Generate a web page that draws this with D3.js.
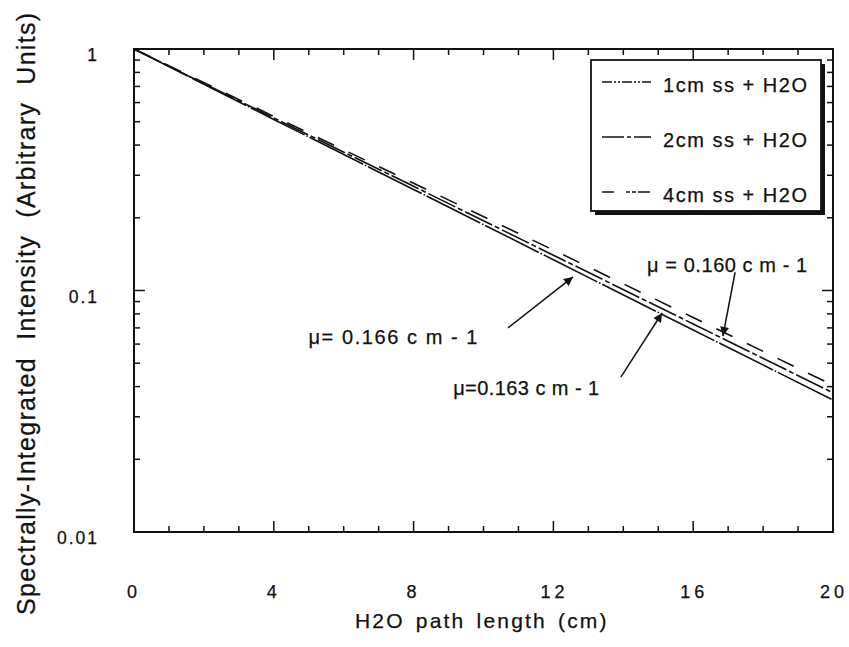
<!DOCTYPE html>
<html>
<head>
<meta charset="utf-8">
<script src="https://cdn.jsdelivr.net/npm/d3@7"></script>
<style>
  body { margin: 0; background: #fff; }
  text { font-family: "Liberation Sans", Arial, sans-serif; fill: #111; stroke: #111; stroke-width: 0.25; white-space: pre; }
</style>
</head>
<body>
<div id="chart"></div>
<script>
// data
const pathLength = [0, 4, 8, 12, 16, 20];
const series1cm = [1, 0.511, 0.262, 0.134, 0.0686, 0.0352];
const series2cm = [1, 0.518, 0.270, 0.140, 0.0727, 0.0377];
const series4cm = [1, 0.526, 0.278, 0.147, 0.0773, 0.0405];
const seriesNames = ["1cm ss + H2O", "2cm ss + H2O", "4cm ss + H2O"];
const xTicks = [0, 4, 8, 12, 16, 20];
const yTicks = [0.01, 0.1, 1];
const yTickLabels = ["0.01", "0.1", "1"];

// annotations: label, text pos, arrow start, arrow tip (data coords)
const notes = [
  {label: "\u03bc= 0.166 c m - 1", tx: 7.41, ty: 0.0642, x1: 10.70, y1: 0.070, x2: 12.56, y2: 0.1138, w: 169},
  {label: "\u03bc=0.163 c m - 1", tx: 11.22, ty: 0.0395, x1: 13.93, y1: 0.0438, x2: 15.11, y2: 0.0807, w: 146},
  {label: "\u03bc = 0.160 c m - 1", tx: 16.97, ty: 0.128, x1: 17.2, y1: 0.119, x2: 16.85, y2: 0.0648, w: 160}
];

const width = 849, height = 647;
const margin = {left: 134, right: 16, top: 49, bottom: 115};

const svg = d3.select("#chart").append("svg")
    .attr("width", width)
    .attr("height", height);

const x = d3.scaleLinear().domain([0, 20]).range([margin.left, width - margin.right]);
const y = d3.scaleLog().domain([0.01, 1]).range([height - margin.bottom, margin.top]);

const dashes = ["60,2,1.5,2", "30,3,5,3", "18,16"];
const allSeries = [series1cm, series2cm, series4cm];

// ticks, inward on all four sides
const tickG = svg.append("g").attr("stroke", "#111").attr("stroke-width", 1.5);
d3.range(0, 21).forEach(function(v) {
  const len = v % 4 === 0 ? 11 : 6;
  tickG.append("line").attr("x1", x(v)).attr("x2", x(v))
      .attr("y1", y(0.01)).attr("y2", y(0.01) - len);
  tickG.append("line").attr("x1", x(v)).attr("x2", x(v))
      .attr("y1", y(1)).attr("y2", y(1) + len);
});
[0.01, 0.1].forEach(function(dec) {
  d3.range(1, 10).forEach(function(m) {
    const v = dec * m;
    const len = m === 1 ? 11 : 6;
    tickG.append("line").attr("x1", x(0)).attr("x2", x(0) + len)
        .attr("y1", y(v)).attr("y2", y(v));
    tickG.append("line").attr("x1", x(20)).attr("x2", x(20) - len)
        .attr("y1", y(v)).attr("y2", y(v));
  });
});

// frame
svg.append("rect")
    .attr("x", x(0)).attr("y", y(1))
    .attr("width", x(20) - x(0)).attr("height", y(0.01) - y(1))
    .attr("fill", "none").attr("stroke", "#111").attr("stroke-width", 2);

// lines
const line = d3.line()
    .x(function(d, i) { return x(pathLength[i]); })
    .y(function(d) { return y(d); });

svg.append("g").selectAll("path")
    .data(allSeries)
    .enter().append("path")
    .attr("d", line)
    .attr("fill", "none")
    .attr("stroke", "#111")
    .attr("stroke-width", 1.6)
    .attr("stroke-dasharray", function(d, i) { return dashes[i]; });

// tick labels
svg.append("g").selectAll("text")
    .data(xTicks)
    .enter().append("text")
    .attr("x", function(d) { return x(d) + (d >= 10 ? 1 : 0); })
    .attr("y", 598)
    .attr("text-anchor", "middle")
    .attr("font-size", 18)
    .attr("letter-spacing", 4)
    .text(function(d) { return d; });

svg.append("g").selectAll("text")
    .data(yTicks)
    .enter().append("text")
    .attr("x", 99)
    .attr("y", function(d) { return y(d) + 12; })
    .attr("text-anchor", "end")
    .attr("font-size", 17.5)
    .attr("letter-spacing", 2)
    .text(function(d, i) { return yTickLabels[i]; });

// axis titles
svg.append("text")
    .attr("x", 355).attr("y", 628)
    .attr("font-size", 21)
    .attr("letter-spacing", 2.2)
    .attr("word-spacing", 3)
    .text("H2O path length (cm)");

svg.append("text")
    .attr("transform", "translate(35,615) rotate(-90)")
    .attr("font-size", 25)
    .attr("letter-spacing", 1.3)
    .attr("word-spacing", 9)
    .text("Spectrally-Integrated Intensity (Arbitrary Units)");

// legend
const lg = svg.append("g");
lg.append("rect").attr("x", 595).attr("y", 64).attr("width", 230).attr("height", 151).attr("fill", "#111");
lg.append("rect").attr("x", 591).attr("y", 60).attr("width", 230).attr("height", 151)
    .attr("fill", "#fff").attr("stroke", "#111").attr("stroke-width", 1.8);
seriesNames.forEach(function(name, i) {
  const ly = 82 + i * 55;
  lg.append("line").attr("x1", 602).attr("x2", 651).attr("y1", ly).attr("y2", ly)
      .attr("stroke", "#111").attr("stroke-width", 1.4)
      .attr("stroke-dasharray", ["10,2,2,2,2,2", "22,3,4,3", "12,12,4,2,4,2"][i]);
  lg.append("text").attr("x", 663).attr("y", ly + 10)
      .attr("font-size", 20)
      .attr("textLength", 144)
      .attr("lengthAdjust", "spacing")
      .text(name);
});

// annotations with arrows
svg.append("defs").append("marker")
    .attr("id", "arrow")
    .attr("viewBox", "0 0 10 10")
    .attr("refX", 10).attr("refY", 5)
    .attr("markerWidth", 15).attr("markerHeight", 9)
    .attr("markerUnits", "userSpaceOnUse")
    .attr("orient", "auto")
    .append("path").attr("d", "M0,0 L10,5 L0,10 Z").attr("fill", "#111");

notes.forEach(function(n) {
  svg.append("line")
      .attr("x1", x(n.x1)).attr("y1", y(n.y1))
      .attr("x2", x(n.x2)).attr("y2", y(n.y2))
      .attr("stroke", "#111").attr("stroke-width", 1.5)
      .attr("marker-end", "url(#arrow)");
  svg.append("text")
      .attr("x", x(n.tx) - n.w / 2).attr("y", y(n.ty) + 7)
      .attr("font-size", 20)
      .attr("textLength", n.w)
      .attr("lengthAdjust", "spacing")
      .text(n.label);
});
</script>
</body>
</html>
